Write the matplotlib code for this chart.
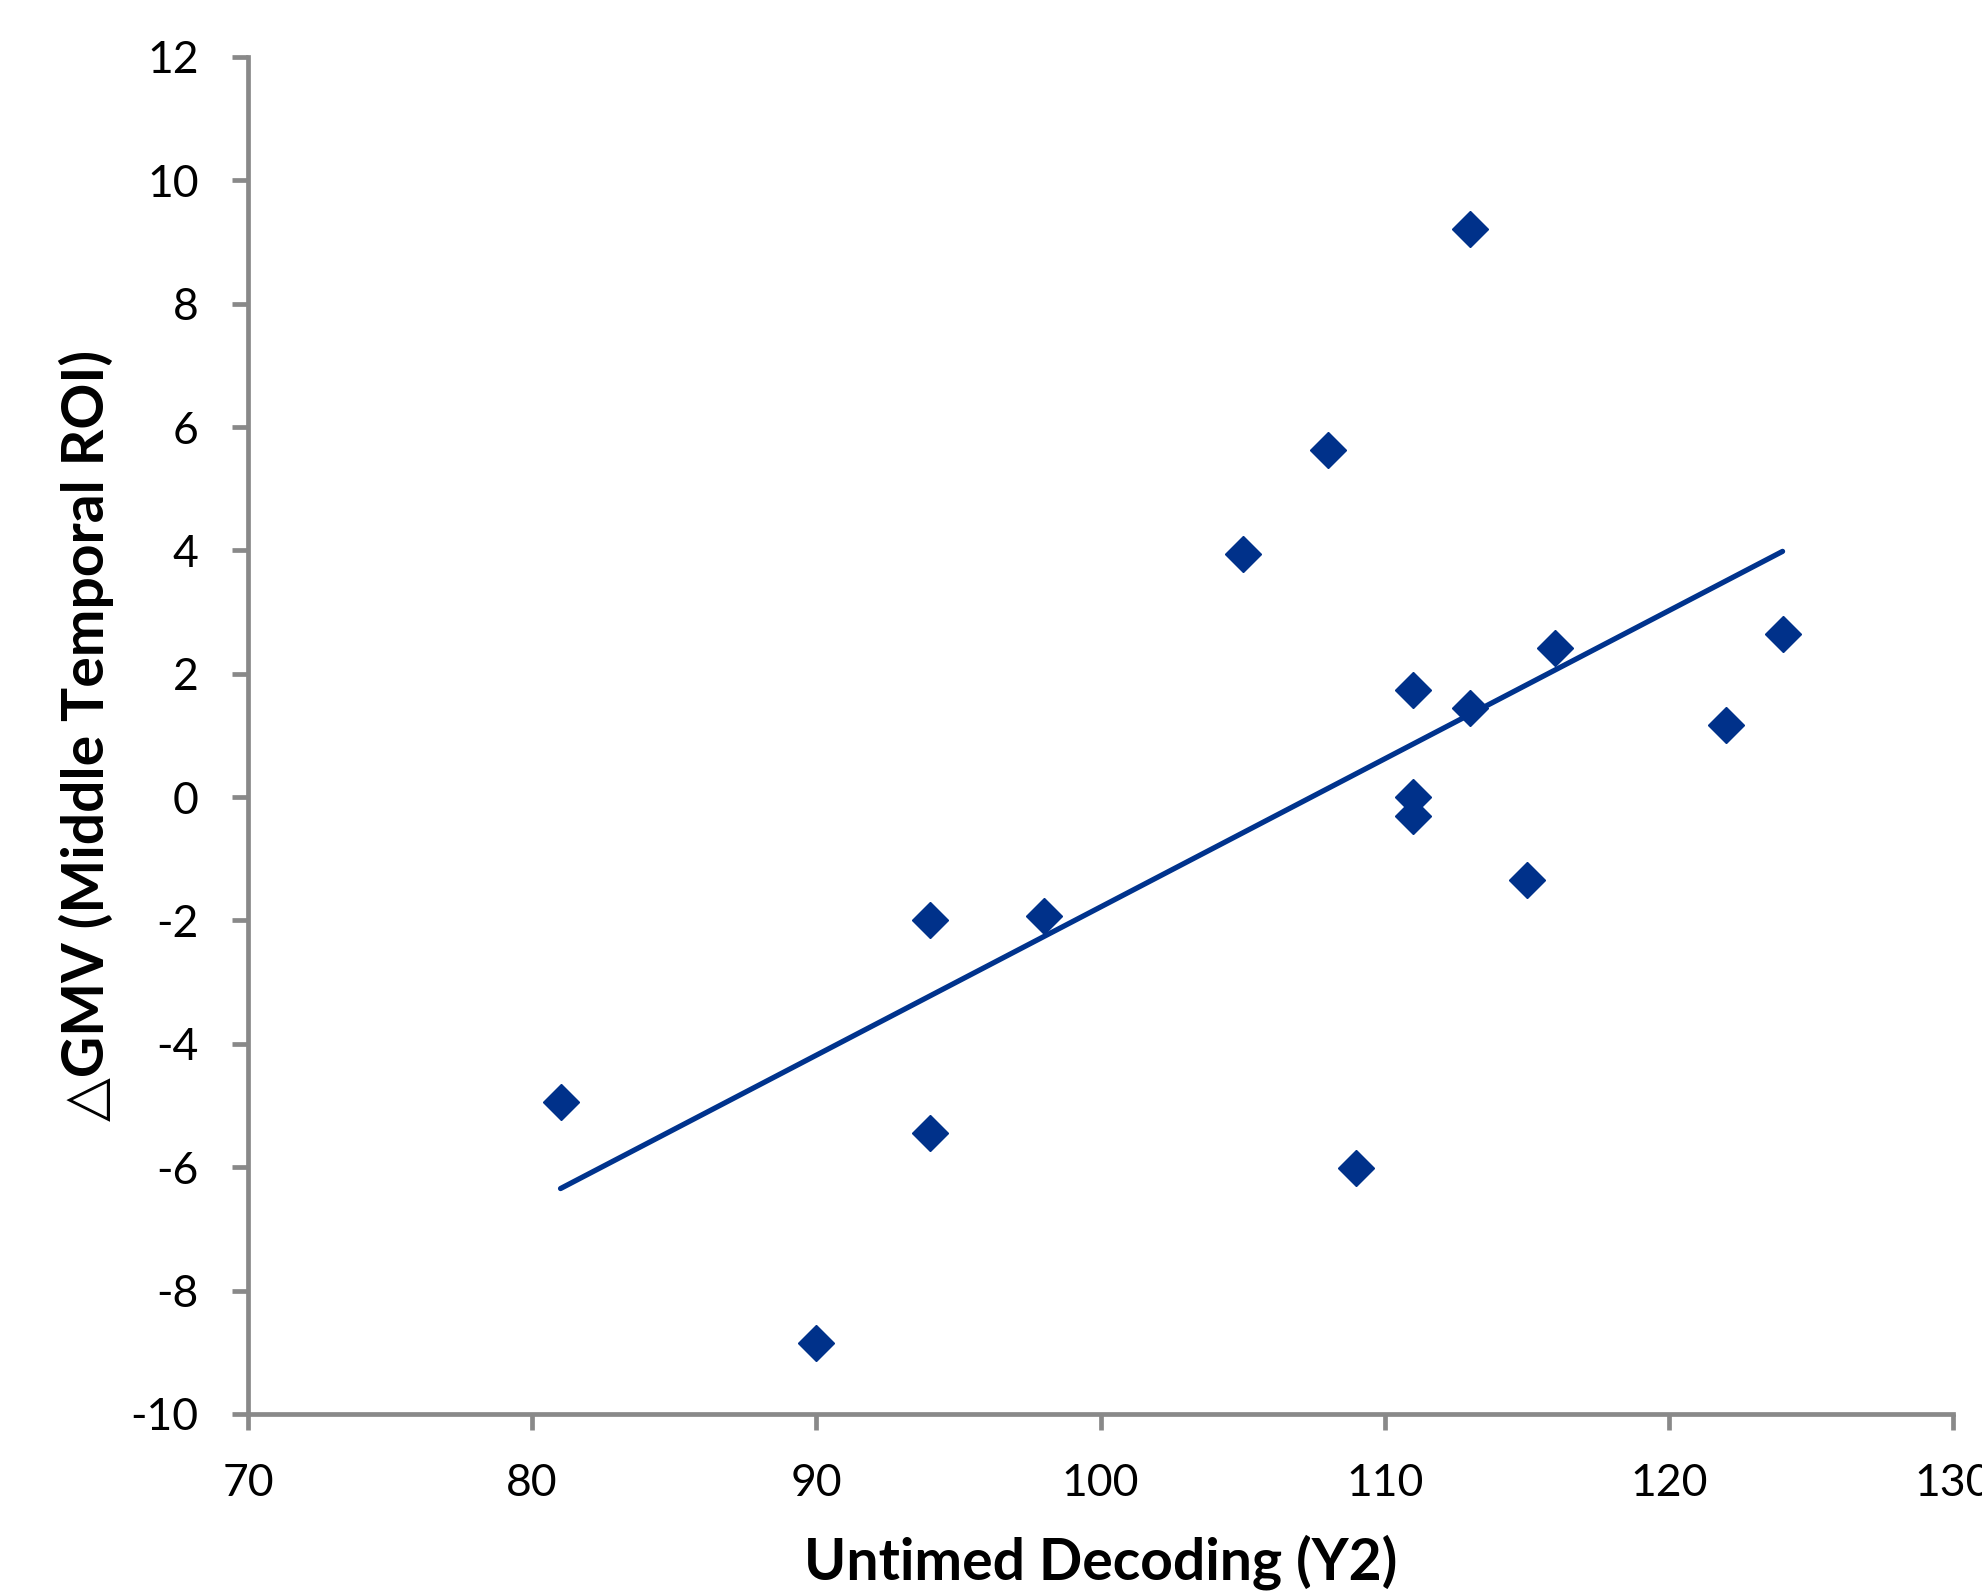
import numpy as np
import matplotlib
matplotlib.use("Agg")
import matplotlib.pyplot as plt

plt.rcParams['font.family'] = ['Lato', 'DejaVu Sans']
plt.rcParams['axes.unicode_minus'] = False

# Data
decoding = [81, 90, 94, 94, 98, 105, 108, 109, 111, 111, 111, 113, 113, 115, 116, 122, 124]
gmv = [-4.95, -8.85, -2.0, -5.45, -1.92, 3.94, 5.62, -6.02, 1.73, 0.0, -0.3,
       9.21, 1.44, -1.35, 2.42, 1.17, 2.65]
x_ticks = [70, 80, 90, 100, 110, 120, 130]
y_ticks = [-10, -8, -6, -4, -2, 0, 2, 4, 6, 8, 10, 12]

x = np.array(decoding, dtype=float)
y = np.array(gmv, dtype=float)
slope, intercept = np.polyfit(x, y, 1)
xf = np.array([x.min(), x.max()])

fig = plt.figure(figsize=(19.82, 15.91), dpi=100)
ax = fig.add_axes([0.1251, 0.1113, 0.8603, 0.8529])

navy = '#00318A'
ax.plot(xf, slope * xf + intercept, color='#00338D', lw=3.8, solid_capstyle='round', zorder=2)
ax.plot(x, y, linestyle='none', marker='D', ms=18.5, color=navy, mec=navy, zorder=3)

ax.set_xlim(70, 130)
ax.set_ylim(-10, 12)
ax.set_xticks(x_ticks)
ax.set_yticks(y_ticks)
ax.set_xticklabels([str(v) for v in x_ticks])
ax.set_yticklabels([str(v) for v in y_ticks])

for s in ['top', 'right']:
    ax.spines[s].set_visible(False)
for s in ['left', 'bottom']:
    ax.spines[s].set_color('#898989')
    ax.spines[s].set_linewidth(3.4)

ax.tick_params(axis='both', direction='out', length=11.5, width=3.4, color='#898989',
               labelsize=32, labelcolor='black')
ax.tick_params(axis='x', pad=24)
ax.tick_params(axis='y', pad=24)

ax.set_xlabel('Untimed Decoding (Y2)', fontsize=41, fontweight='bold', labelpad=22)
ax.set_ylabel('\u25b3GMV (Middle Temporal ROI)', fontsize=41, fontweight='bold', labelpad=12)

fig.savefig('out.png', dpi=100)
